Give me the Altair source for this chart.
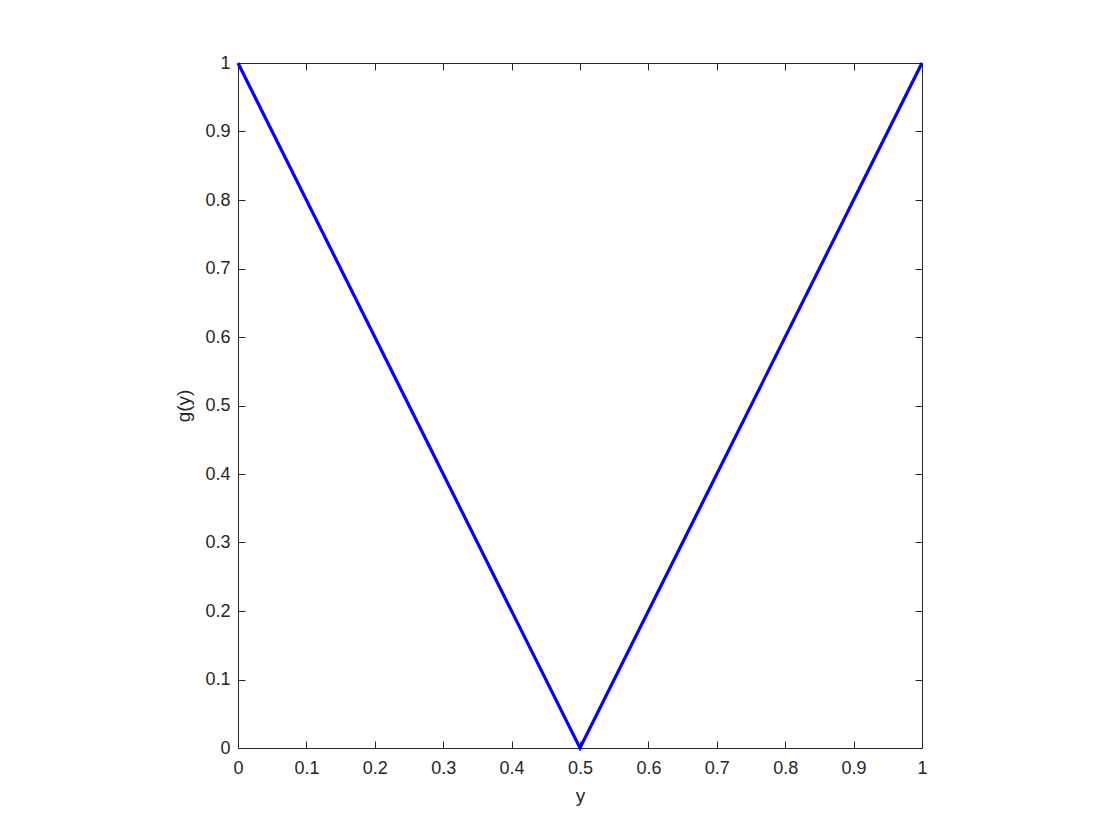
import altair as alt
import pandas as pd

y_vals = [0.0, 0.5, 1.0]
g_vals = [1.0, 0.0, 1.0]
x_ticks = [0, 0.1, 0.2, 0.3, 0.4, 0.5, 0.6, 0.7, 0.8, 0.9, 1]
y_ticks = [0, 0.1, 0.2, 0.3, 0.4, 0.5, 0.6, 0.7, 0.8, 0.9, 1]

df = pd.DataFrame({"y": y_vals, "g": g_vals})

FONT = "Helvetica, Liberation Sans, Arial, sans-serif"
TXT = "#262626"
TS = 7

def ax(orient, labels, title=None, **kw):
    args = dict(
        orient=orient, values=x_ticks if orient in ("bottom", "top") else y_ticks,
        format="~g", domain=False, grid=False, tickSize=TS, offset=-TS,
        tickColor=TXT, tickWidth=1, labels=labels, labelFlush=False,
        labelOverlap=False,
        labelFont=FONT, labelFontSize=18, labelColor=TXT,
        titleFont=FONT, titleFontSize=19, titleColor=TXT, titleFontWeight="normal",
    )
    args["title"] = title if title is not None else None
    args.update(kw)
    return alt.Axis(**args)

xs = alt.Scale(domain=[0, 1], nice=False, zero=False)
ysc = alt.Scale(domain=[0, 1], nice=False, zero=False)

main = alt.Chart(df).mark_line(color="#0000ff", strokeWidth=3.2).encode(
    x=alt.X("y:Q", scale=xs, axis=ax("bottom", True, "y", labelPadding=11, titlePadding=9)),
    y=alt.Y("g:Q", scale=ysc, axis=ax("left", True, "g(y)", labelPadding=8, titlePadding=11)),
)

second = alt.Chart(df).mark_line(opacity=0).encode(
    x=alt.X("y:Q", scale=xs, axis=ax("top", False)),
    y=alt.Y("g:Q", scale=ysc, axis=ax("right", False)),
)

chart = alt.layer(main, second).resolve_axis(x="independent", y="independent").properties(
    width=684, height=685,
    autosize=alt.AutoSizeParams(type="none"),
    padding={"left": 230, "top": 55, "right": 190, "bottom": 80},
    background="white",
).configure_view(stroke=TXT, strokeWidth=1)

chart.save("out.html", embed_options={"renderer": "svg", "actions": False})
